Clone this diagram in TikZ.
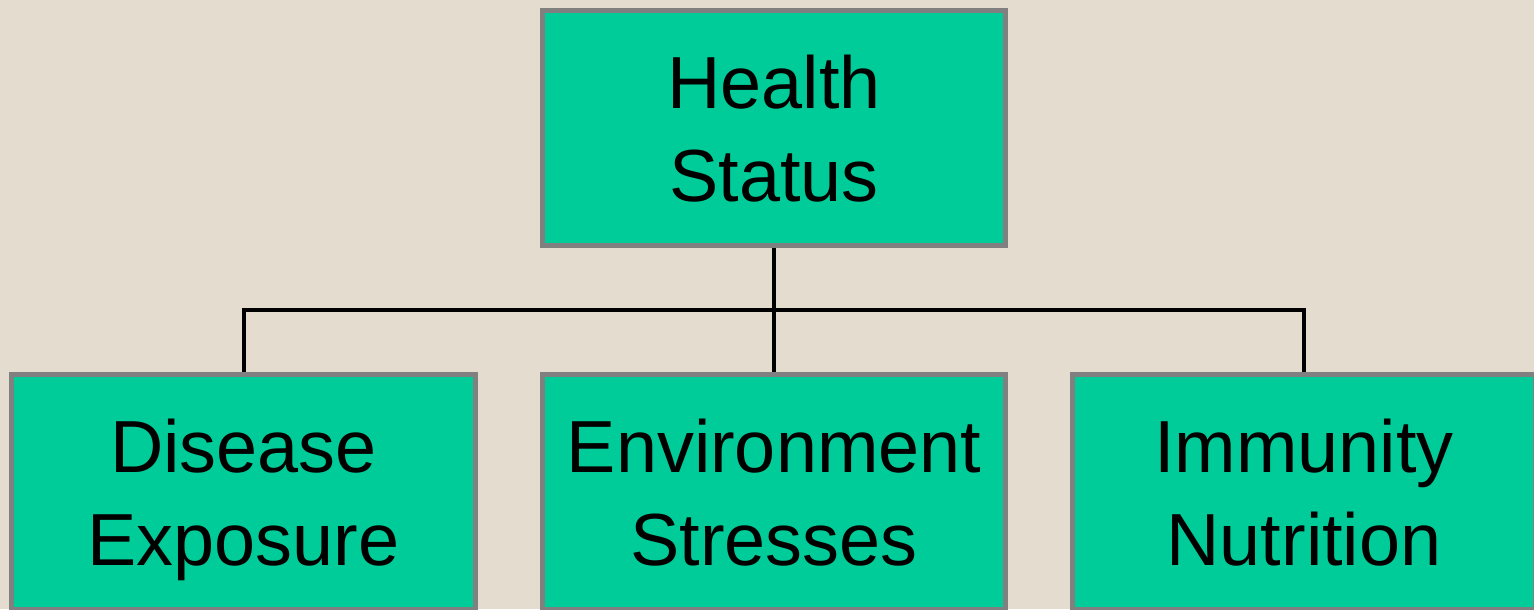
\documentclass[tikz,border=0pt]{standalone}
\usepackage{fontspec}
\setmainfont{Liberation Sans}
\usepackage{tikz}
\usetikzlibrary{positioning,calc}
\usepackage{xcolor}
\definecolor{boxgreen}{HTML}{00CC99}
\definecolor{boxedge}{HTML}{808080}
\definecolor{paper}{HTML}{E3DCCF}

\begin{document}
\begin{tikzpicture}[
    factor/.style={draw=boxedge, line width=0.05cm, fill=boxgreen, align=center,
        minimum width=4.63cm, minimum height=2.35cm, inner sep=0pt,
        font=\fontsize{21}{26.4}\selectfont, text depth=0pt},
    link/.style={line width=0.04cm, black}
]
    % Background
    \path[use as bounding box, fill=paper] (0,0) rectangle (15.34,-6.09);
    \clip (0,0) rectangle (15.34,-6.09);

    % Boxes
    \node[factor] (health) at (7.74,-1.28) {Health\\Status};
    \foreach \x/\name/\txt in {2.435/disease/Disease\\Exposure, 7.74/environment/Environment\\Stresses, 13.04/immunity/Immunity\\Nutrition} {
        \node[factor] (\name) at (\x,-4.92) {\txt};
    }

    % Connectors
    \foreach \c in {disease, environment, immunity} {
        \draw[link] (health.south) |- ($(health.south)!0.5!(\c.north)$) -| (\c.north);
    }
\end{tikzpicture}
\end{document}
